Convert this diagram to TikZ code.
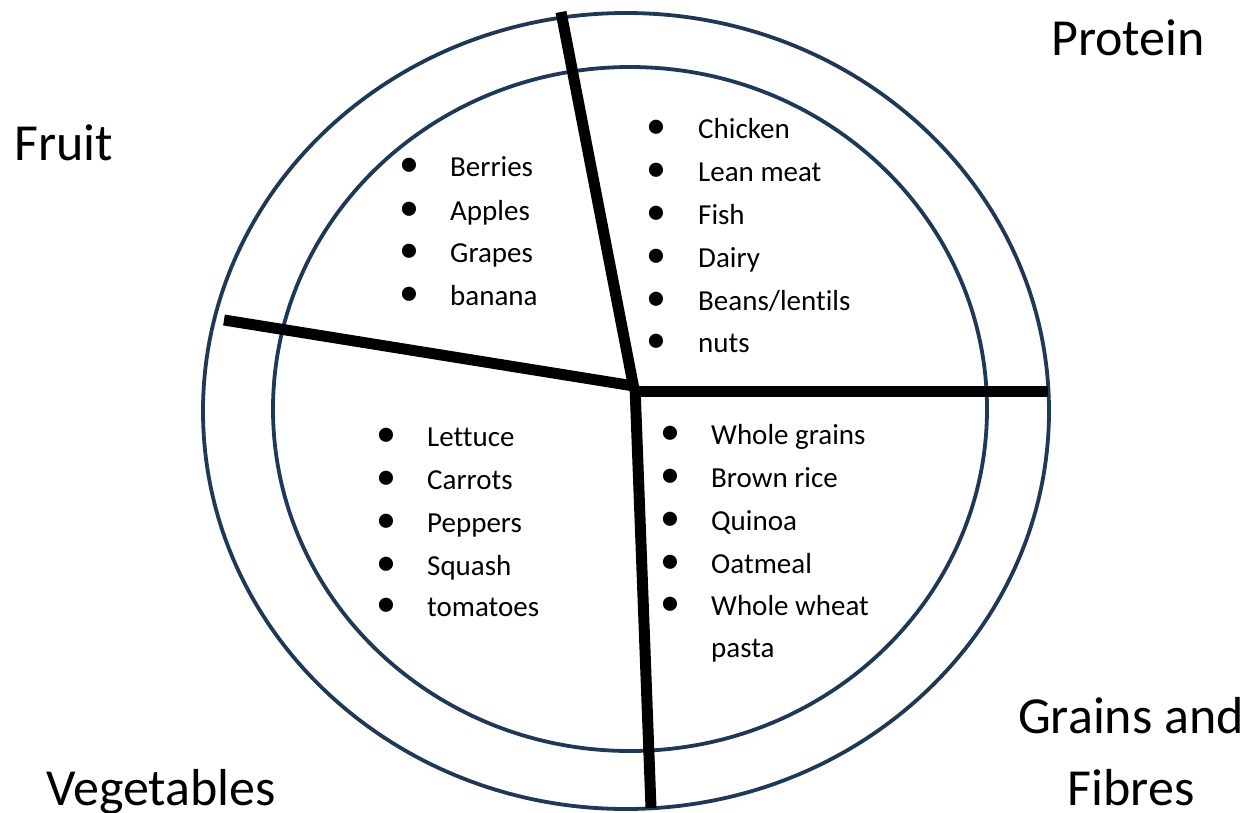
\documentclass[tikz,border=0pt]{standalone}
\usepackage{fontspec}
\setmainfont{Carlito}[Ligatures=NoCommon]
\definecolor{ring}{HTML}{1F3856}
\begin{document}
\begin{tikzpicture}[x=1pt,y=-1pt,
  ringline/.style={draw=ring,line width=3.8pt},
  divider/.style={draw=black,line width=11pt},
  item/.style={anchor=base west,inner sep=0pt,font=\fontsize{29}{35}\selectfont},
  dot/.style={anchor=center,inner sep=0pt,font=\fontsize{40}{40}\selectfont},
  biglabel/.style={anchor=base west,inner sep=0pt,font=\fontsize{52}{72}\selectfont}]
\useasboundingbox (0,0) rectangle (1248,812);
% rings
\draw[ringline] (626,411) ellipse [x radius=423pt, y radius=398pt];
\draw[ringline] (630,409) ellipse [x radius=357pt, y radius=342pt];
% dividers
\coordinate (hub) at (634,389);
\coordinate (topend) at (561,12);
\coordinate (leftend) at (224,320);
\coordinate (rightend) at (1048,391);
\coordinate (botend) at (651,808);
\draw[divider] (topend) -- (hub);
\draw[divider] (leftend) -- (634,386);
\draw[divider] (632,391) -- (rightend);
\draw[divider] (635,386) -- (botend);
% big labels
\node[biglabel] (protein) at (1051,55) {Protein};
\node[biglabel] (fruit) at (14,160) {Fruit};
\node[biglabel] (veg) at (46,805) {Vegetables};
\node[anchor=base,inner sep=0pt,font=\fontsize{52}{72}\selectfont] (grains) at (1131,733) {Grains and};
\node[anchor=base,inner sep=0pt,font=\fontsize{52}{72}\selectfont] (fibres) at (1131,805) {Fibres};
% fruit list
\foreach \t/\y [count=\i] in {Berries/167,Apples/211,Grapes/253,banana/296}{
  \node[dot] (fd\i) at (409,\y) {•};
  \node[item] (f\i) at (450,\y+9) {\t};
}
% protein list
\foreach \t/\y [count=\i] in {Chicken/129,Lean meat/172,Fish/215,Dairy/258,{Beans/lentils}/301,nuts/343}{
  \node[dot] (pd\i) at (656,\y) {•};
  \node[item] (p\i) at (698,\y+9) {\t};
}
% vegetable list
\foreach \t/\y [count=\i] in {Lettuce/437,Carrots/480,Peppers/523,Squash/566,tomatoes/607}{
  \node[dot] (vd\i) at (386,\y) {•};
  \node[item] (v\i) at (427,\y+9) {\t};
}
% grains list
\foreach \t/\y [count=\i] in {Whole grains/435,Brown rice/478,Quinoa/521,Oatmeal/564,Whole wheat/606}{
  \node[dot] (gd\i) at (670,\y) {•};
  \node[item] (g\i) at (711,\y+9) {\t};
}
\node[item] (g6) at (711,657) {pasta};
\end{tikzpicture}
\end{document}
